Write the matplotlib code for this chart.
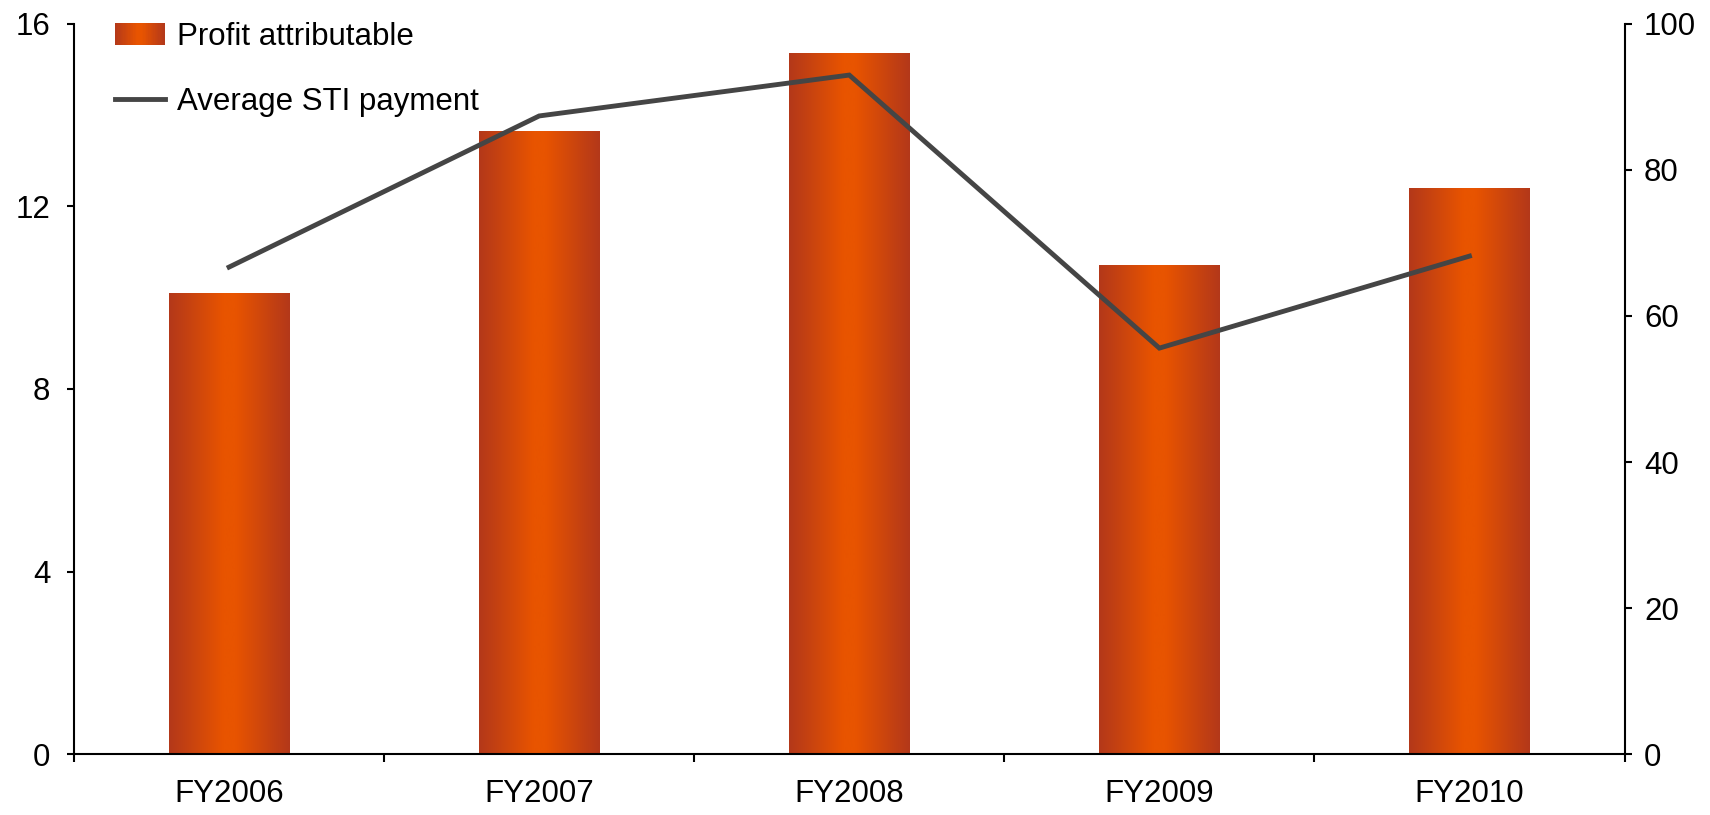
import numpy as np
import matplotlib.pyplot as plt
from matplotlib.colors import LinearSegmentedColormap
from matplotlib.patches import Rectangle
from matplotlib.lines import Line2D
from matplotlib.legend_handler import HandlerBase

plt.rcParams['font.family'] = ['Liberation Sans', 'DejaVu Sans']

years = ["FY2006", "FY2007", "FY2008", "FY2009", "FY2010"]
profit = [10.1, 13.65, 15.35, 10.7, 12.4]
sti = [66.7, 87.4, 93.0, 55.6, 68.2]
left_ticks = [0, 4, 8, 12, 16]
right_ticks = [0, 20, 40, 60, 80, 100]

edge_col = "#B3381A"
mid_col = "#E85400"
line_col = "#454545"
cmap = LinearSegmentedColormap.from_list(
    "bargrad", [(0, edge_col), (0.45, mid_col), (0.55, mid_col), (1, edge_col)])


class GradientHandler(HandlerBase):
    # legend key drawn as thin vertical slices so it shows the same gradient
    def create_artists(self, legend, orig, xd, yd, w, h, fontsize, trans):
        n = 40
        arts = []
        for i in range(n):
            r = Rectangle((xd + w * i / n, yd), w / n * 1.05, h,
                          facecolor=cmap((i + 0.5) / n), edgecolor='none',
                          transform=trans)
            arts.append(r)
        return arts


fig = plt.figure(figsize=(17.1, 8.15), dpi=100)
ax = fig.add_axes([0.0433, 0.0748, 0.9067, 0.8958])

x = np.arange(len(years))
bars = ax.bar(x, profit, width=0.39, color='none', edgecolor='none')
grad = np.linspace(0, 1, 256).reshape(1, -1)
for b in bars:
    x0, w, h = b.get_x(), b.get_width(), b.get_height()
    ax.imshow(grad, extent=[x0, x0 + w, 0, h], aspect='auto', cmap=cmap,
              zorder=1, interpolation='bilinear')

ax.set_xlim(-0.5, len(years) - 0.5)
ax.set_ylim(0, 16)
ax.set_yticks(left_ticks)
ax.set_xticks(x)
ax.set_xticklabels(years)
ax.set_xticks(np.arange(-0.5, len(years)), minor=True)
ax.tick_params(axis='x', which='major', length=0, pad=18, labelsize=22.5)
ax.tick_params(axis='x', which='minor', length=6, width=1.5, direction='out')
ax.tick_params(axis='y', length=5, width=1.5, direction='out', pad=12, labelsize=22.5)
for s in ['top', 'right']:
    ax.spines[s].set_visible(False)
for s in ['left', 'bottom']:
    ax.spines[s].set_linewidth(1.5)

ax2 = ax.twinx()
ax2.plot(x, sti, color=line_col, lw=3.5, solid_joinstyle='miter')
ax2.set_ylim(0, 100)
ax2.set_yticks(right_ticks)
ax2.tick_params(axis='y', length=5, width=1.5, direction='out', pad=9, labelsize=22.5)
for s in ['top', 'left', 'bottom']:
    ax2.spines[s].set_visible(False)
ax2.spines['right'].set_linewidth(1.5)

handles = [Rectangle((0, 0), 1, 1), Line2D([], [], color=line_col, lw=3.5)]
labels = ["Profit attributable", "Average STI payment"]
ax2.legend(handles, labels, handler_map={Rectangle: GradientHandler()},
           loc='upper left', bbox_to_anchor=(0.008, 1.041), frameon=False,
           fontsize=22.5, handlelength=1.6, handletextpad=0.4, labelspacing=1.1)

fig.savefig("out.png", dpi=100)
